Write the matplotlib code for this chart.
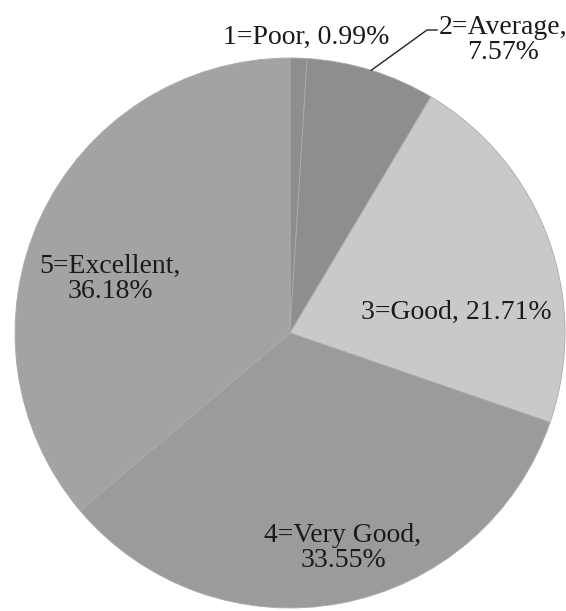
import numpy as np
import matplotlib
matplotlib.use("Agg")
import matplotlib.pyplot as plt

plt.rcParams["font.family"] = ["Liberation Serif", "DejaVu Serif"]

# Data
categories = ["1=Poor", "2=Average", "3=Good", "4=Very Good", "5=Excellent"]
values = [0.99, 7.57, 21.71, 33.55, 36.18]

# Style
colors = ["#8e8e8e", "#8e8e8e", "#c9c9c9", "#9b9b9b", "#a3a3a3"]
W, H = 566, 611
cx, cy, R = 290, H - 333, 275
# label centres in pixel coords (x, y from top)
label_pos = [(306, 37), (503, 40), (456, 312), (343, 548), (110, 279)]
label_text = [
    "{}, {:.2f}%".format(categories[0], values[0]),
    "{},\n{:.2f}%".format(categories[1], values[1]),
    "{}, {:.2f}%".format(categories[2], values[2]),
    "{},\n{:.2f}%".format(categories[3], values[3]),
    "{},\n{:.2f}%".format(categories[4], values[4]),
]

fig = plt.figure(figsize=(W / 100, H / 100), dpi=100)
ax = fig.add_axes([0, 0, 1, 1])
wedges, _ = ax.pie(values, colors=colors, startangle=90, counterclock=False,
                   center=(cx, cy), radius=R,
                   wedgeprops=dict(edgecolor="#ababab", linewidth=0.6))
ax.set_xlim(0, W)
ax.set_ylim(0, H)
ax.set_aspect("equal")
ax.axis("off")

for (x, y), t in zip(label_pos, label_text):
    ax.text(x, H - y, t, ha="center", va="center", linespacing=1.05,
            fontsize=20, color="#1a1a1a")

# leader line for Average slice
w = wedges[1]
mid = np.deg2rad((w.theta1 + w.theta2) / 2)
px, py = cx + R * np.cos(mid), cy + R * np.sin(mid)
ax.plot([px, 427, 437], [py, H - 30, H - 30], color="#222222", lw=1)

fig.savefig("out.png", dpi=100)
